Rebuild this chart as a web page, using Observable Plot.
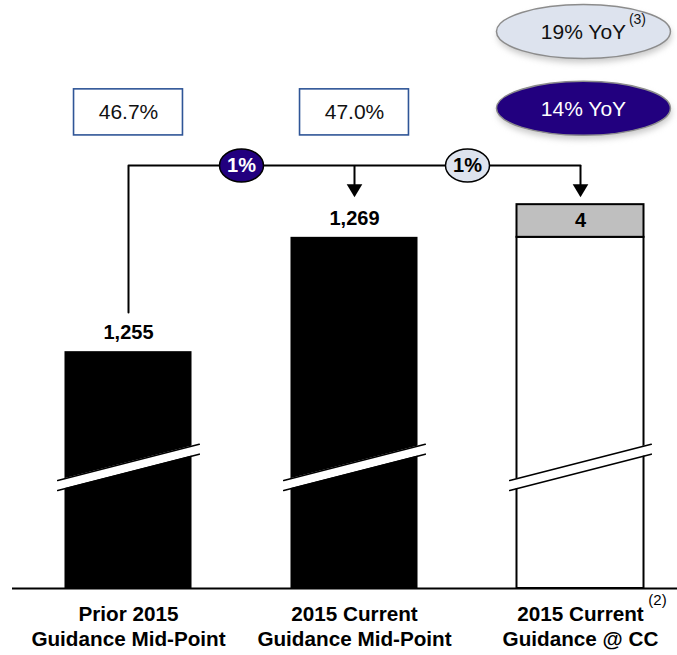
<!DOCTYPE html>
<html>
<head>
<meta charset="utf-8">
<script src="https://cdn.jsdelivr.net/npm/d3@7"></script>
<script src="https://cdn.jsdelivr.net/npm/@observablehq/plot@0.6"></script>
<style>
  html, body { margin: 0; padding: 0; background: #fff; }
  #chart { width: 677px; height: 655px; }
</style>
</head>
<body>
<div id="chart"></div>
<script>
// Revenue guidance bridge (in millions)
const categories = ["Prior 2015\nGuidance Mid-Point", "2015 Current\nGuidance Mid-Point", "2015 Current\nGuidance @ CC"];
const baseValues = [1255, 1269, 1269];
const fxImpact = [0, 0, 4];
const marginLabels = ["46.7%", "47.0%"];
const stepChanges = ["1%", "1%"];
const yoyLabels = ["19% YoY", "14% YoY"];

// Truncated value axis (the bars carry a break symbol)
const yBase = 1226;
const yTop = 1298;

// Annotation levels expressed on the value axis
const bridgeLevel = 1277.8;
const bridgeStart = 1259.8;
const arrowTip = 1273.9;
const boxLevel = 1284.3;
const boxHalfH = 2.82;
const boxHalfW = 0.241;
const yoyLevels = [1294.2, 1284.8];
const yoyX = 2.013;

// Break symbol geometry
const breakLow = 1238.0;
const breakGap = 1.22;
const breakRise = 4.45;
const breakHalfW = 0.313;
const barHalfW = 0.281;

const fmt = d3.format(",");

const bars = categories.map((c, i) => ({i, label: c, value: baseValues[i], fx: fxImpact[i]}));
const fxBars = bars.filter(d => d.fx > 0);

const breakPts = bars.flatMap(d => [
  {i: d.i, x: d.i - breakHalfW, lo: breakLow, hi: breakLow + breakGap},
  {i: d.i, x: d.i + breakHalfW, lo: breakLow + breakRise, hi: breakLow + breakRise + breakGap}
]);

// Ellipse drawn as a d3 symbol; size maps to the horizontal radius
function ellipse(aspect) {
  const k = 0.5523;
  return {
    draw(ctx, size) {
      const rx = Math.sqrt(size / Math.PI), ry = rx * aspect;
      ctx.moveTo(rx, 0);
      ctx.bezierCurveTo(rx, ry * k, rx * k, ry, 0, ry);
      ctx.bezierCurveTo(-rx * k, ry, -rx, ry * k, -rx, 0);
      ctx.bezierCurveTo(-rx, -ry * k, -rx * k, -ry, 0, -ry);
      ctx.bezierCurveTo(rx * k, -ry, rx, -ry * k, rx, 0);
      ctx.closePath();
    }
  };
}
// Down-pointing arrowhead with its tip at the anchor point
const arrowHead = {
  draw(ctx, size) {
    const s = Math.sqrt(size / Math.PI);
    ctx.moveTo(0, 0);
    ctx.lineTo(-s * 0.6, -s);
    ctx.lineTo(s * 0.6, -s);
    ctx.closePath();
  }
};

const boxes = marginLabels.map((t, i) => ({i, t}));
const steps = stepChanges.map((t, i) => ({x: i + 0.5, t, dark: i === 0}));
const yoy = yoyLabels.map((t, i) => ({t, y: yoyLevels[i], dark: i === 1}));

const font = "'Liberation Sans', Arial, Helvetica, sans-serif";

const chart = Plot.plot({
  width: 677,
  height: 655,
  marginLeft: 12,
  marginRight: 0,
  marginTop: 0,
  marginBottom: 67,
  style: {fontFamily: font, background: "#fff", overflow: "visible"},
  x: {type: "linear", domain: [-0.5, 2.5], range: [15, 693], axis: null},
  y: {domain: [yBase, yTop], range: [588, 0], axis: null},
  marks: [
    // bars
    Plot.rectY(bars, {x1: d => d.i - barHalfW, x2: d => d.i + barHalfW, y1: yBase, y2: "value",
      fill: d => d.fx > 0 ? "#fff" : "#000", stroke: "#000", strokeWidth: d => d.fx > 0 ? 2 : 0}),
    Plot.rectY(fxBars, {x1: d => d.i - barHalfW, x2: d => d.i + barHalfW, y1: "value", y2: d => d.value + d.fx,
      fill: "#bfbfbf", stroke: "#000", strokeWidth: 2}),
    // axis break symbol
    Plot.areaY(breakPts, {x: "x", y1: "lo", y2: "hi", z: "i", fill: "#fff"}),
    Plot.line(breakPts, {x: "x", y: "lo", z: "i", stroke: "#000", strokeWidth: 1.6}),
    Plot.line(breakPts, {x: "x", y: "hi", z: "i", stroke: "#000", strokeWidth: 1.6}),
    // baseline
    Plot.ruleY([yBase], {stroke: "#000", strokeWidth: 2}),
    // value labels
    Plot.text(bars.filter(d => !(d.fx > 0)), {x: "i", y: "value", text: d => fmt(d.value), dy: -19,
      fontSize: 20, fontWeight: "bold", fill: "#000"}),
    Plot.text(fxBars, {x: "i", y: d => d.value + d.fx / 2, text: d => fmt(d.fx),
      fontSize: 20, fontWeight: "bold", fill: "#000"}),
    // category labels
    Plot.text(bars, {x: "i", y: yBase, text: "label", lineAnchor: "top", dy: 15, lineHeight: 1.2,
      fontSize: 20.7, fontWeight: "bold", fill: "#000"}),
    Plot.text(["(2)"], {x: 2, y: yBase, text: d => d, dx: 77, dy: 12, fontSize: 15, fill: "#000"}),
    // bridge connector
    Plot.line([[0, bridgeStart], [0, bridgeLevel], [2, bridgeLevel]], {x: d => d[0], y: d => d[1],
      stroke: "#000", strokeWidth: 2}),
    Plot.link([1, 2], {x1: d => d, x2: d => d, y1: bridgeLevel, y2: arrowTip + 1, stroke: "#000", strokeWidth: 2}),
    Plot.dot([1, 2], {x: d => d, y: arrowTip, r: 13, symbol: arrowHead, fill: "#000", stroke: "none"}),
    // step change bubbles
    Plot.dot(steps, {x: "x", y: bridgeLevel, r: 22, symbol: ellipse(0.75),
      fill: d => d.dark ? "#22007f" : "#dde3ee", stroke: "#000", strokeWidth: 1.5}),
    Plot.text(steps, {x: "x", y: bridgeLevel, text: "t", fontSize: 20, fontWeight: "bold",
      fill: d => d.dark ? "#fff" : "#000"}),
    // gross margin boxes
    Plot.rect(boxes, {x1: d => d.i - boxHalfW, x2: d => d.i + boxHalfW, y1: boxLevel - boxHalfH, y2: boxLevel + boxHalfH,
      fill: "#fff", stroke: "#2f5597", strokeWidth: 1.6}),
    Plot.text(boxes, {x: "i", y: boxLevel, text: "t", fontSize: 21, fill: "#111"}),
    // year-over-year growth ellipses
    Plot.dot(yoy, {x: yoyX, y: "y", r: 87, symbol: ellipse(0.31), dy: 4, dx: 1, fill: "#9a9a9a",
      fillOpacity: 0.55, stroke: "none", imageFilter: "blur(3px)"}),
    Plot.dot(yoy, {x: yoyX, y: "y", r: 87, symbol: ellipse(0.31),
      fill: d => d.dark ? "#22007f" : "#dde3ee", stroke: "#8c8c8c", strokeWidth: 1.5}),
    Plot.text(yoy, {x: yoyX, y: "y", text: "t", fontSize: 21, fill: d => d.dark ? "#fff" : "#111", dy: 1}),
    Plot.text(yoy.filter(d => !d.dark), {x: yoyX, y: "y", text: () => "(3)", dx: 54, dy: -12, fontSize: 14, fill: "#111"})
  ]
});

document.getElementById("chart").appendChild(chart);
</script>
</body>
</html>
